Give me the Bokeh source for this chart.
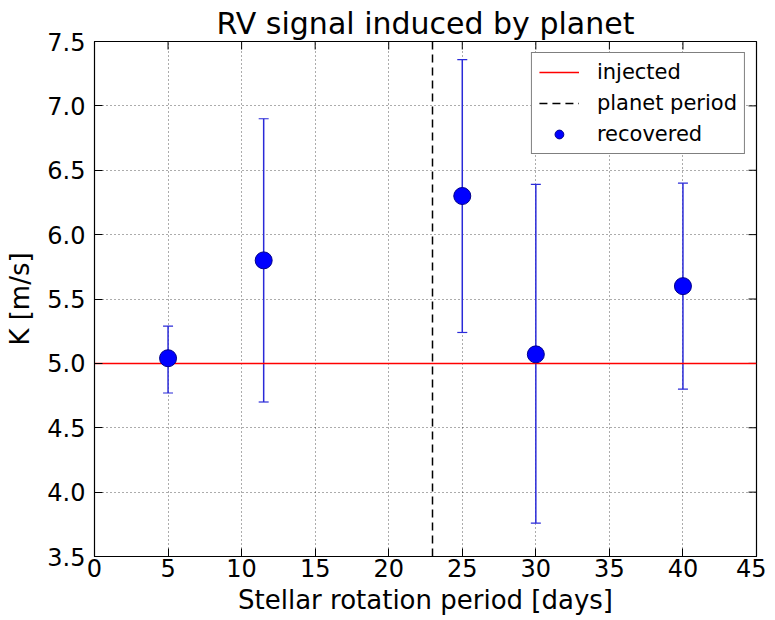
import math
from bokeh.plotting import figure
from bokeh.models import (ColumnDataSource, Whisker, TeeHead, Legend, LegendItem,
                          FixedTicker, Range1d, NumeralTickFormatter)
from bokeh.embed import file_html
from bokeh.resources import INLINE

# ---- data ----
rotation_period = [5, 11.5, 25, 30, 40]
k_recovered = [5.04, 5.80, 6.30, 5.07, 5.60]
k_lower = [4.77, 4.70, 5.24, 3.76, 4.80]
k_upper = [5.29, 6.90, 7.36, 6.39, 6.40]
k_injected = 5.0
planet_period = 23.0
x_ticks = [0, 5, 10, 15, 20, 25, 30, 35, 40, 45]
y_ticks = [3.5, 4.0, 4.5, 5.0, 5.5, 6.0, 6.5, 7.0, 7.5]

FONT = "DejaVu Sans"

p = figure(width=766, height=618, output_backend="svg", toolbar_location=None,
           x_range=Range1d(x_ticks[0], x_ticks[-1]), y_range=Range1d(y_ticks[0], y_ticks[-1]),
           min_border_left=94, min_border_right=10, min_border_top=41, min_border_bottom=62)

p.title.text = "RV signal induced by planet"
p.title.text_font = FONT
p.title.text_font_size = "30px"
p.title.text_font_style = "normal"
p.title.text_color = "black"
p.title.align = "center"
p.title.standoff = 2

p.outline_line_color = "black"
p.outline_line_width = 1.2
p.background_fill_color = "white"
p.border_fill_color = "white"

for ax, ticks in ((p.xaxis[0], x_ticks), (p.yaxis[0], y_ticks)):
    ax.ticker = FixedTicker(ticks=ticks)
    ax.major_tick_in = 8
    ax.major_tick_out = 0
    ax.minor_tick_in = 0
    ax.minor_tick_out = 0
    ax.axis_line_color = "black"
    ax.major_tick_line_color = "black"
    ax.major_label_text_font = FONT
    ax.major_label_text_font_size = "24px"
    ax.major_label_text_color = "black"
    ax.axis_label_text_font = FONT
    ax.axis_label_text_font_size = "26px"
    ax.axis_label_text_font_style = "normal"
    ax.axis_label_text_color = "black"

p.xaxis[0].axis_label = "Stellar rotation period [days]"
p.yaxis[0].axis_label = "K [m/s]"
p.xaxis[0].major_label_standoff = 2
p.yaxis[0].major_label_standoff = 9
p.xaxis[0].axis_label_standoff = 5
p.yaxis[0].axis_label_standoff = 9
p.yaxis[0].formatter = NumeralTickFormatter(format="0.0")

p.xgrid.ticker = FixedTicker(ticks=x_ticks)
p.ygrid.ticker = FixedTicker(ticks=y_ticks)
for g in (p.xgrid[0], p.ygrid[0]):
    g.grid_line_color = "black"
    g.grid_line_alpha = 0.65
    g.grid_line_dash = "1 3"
    g.grid_line_width = 1

# inward tick marks on the top and right edges (clipped half-dashes)
p.scatter(x=x_ticks, y=[y_ticks[-1]] * len(x_ticks), marker="dash", angle=math.pi / 2,
          size=16, line_color="black", line_width=1)
p.scatter(x=[x_ticks[-1]] * len(y_ticks), y=y_ticks, marker="dash",
          size=16, line_color="black", line_width=1)

src = ColumnDataSource(dict(x=rotation_period, y=k_recovered, lo=k_lower, hi=k_upper))

inj = p.hspan(y=[k_injected], line_color="red", line_width=1.4)
per = p.vspan(x=[planet_period], line_color="black", line_width=1.5, line_dash="8 5")

ecol = "#2a2ad8"
w = Whisker(source=src, base="x", lower="lo", upper="hi", line_color=ecol, line_width=1.5,
            upper_head=TeeHead(size=10, line_color=ecol, line_width=1.2),
            lower_head=TeeHead(size=10, line_color=ecol, line_width=1.2))
p.add_layout(w)
rec = p.scatter("x", "y", source=src, size=17, fill_color="blue", line_color="#00008b", line_width=1)

legend = Legend(items=[LegendItem(label="injected", renderers=[inj]),
                       LegendItem(label="planet period", renderers=[per]),
                       LegendItem(label="recovered", renderers=[rec])],
                location="top_right")
legend.label_text_font = FONT
legend.label_text_font_size = "21px"
legend.label_text_color = "black"
legend.border_line_color = "black"
legend.border_line_width = 1.2
legend.glyph_width = 40
legend.glyph_height = 22
legend.label_height = 22
legend.label_standoff = 18
legend.spacing = 7
legend.padding = 7
legend.margin = 11
legend.background_fill_alpha = 1
p.add_layout(legend)

open("out.html", "w").write(file_html(p, INLINE))
